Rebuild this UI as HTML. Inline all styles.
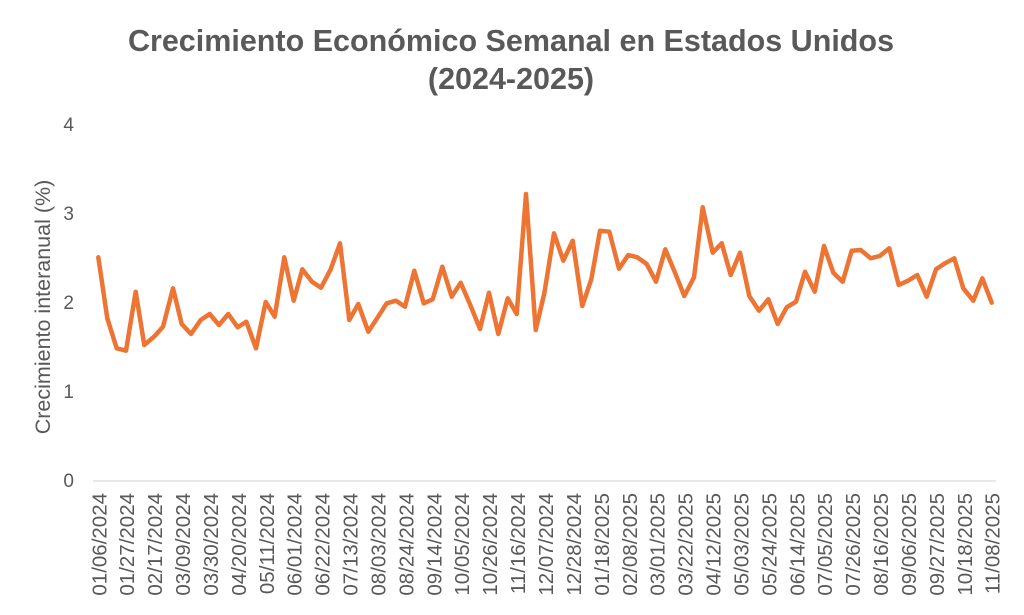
<!DOCTYPE html>
<html><head><meta charset="utf-8"><style>
body{margin:0;background:#fff;}
svg{display:block;font-family:"Liberation Sans",sans-serif;}
</style></head><body>
<svg width="1024" height="615" viewBox="0 0 1024 615">
<text x="511" y="51" text-anchor="middle" font-size="30.5" font-weight="bold" fill="#595959">Crecimiento Económico Semanal en Estados Unidos</text>
<text x="511" y="89" text-anchor="middle" font-size="30.5" font-weight="bold" fill="#595959">(2024-2025)</text>
<g font-size="19" fill="#595959" text-anchor="end">
<text x="74" y="487">0</text><text x="74" y="398">1</text><text x="74" y="309">2</text><text x="74" y="220">3</text><text x="74" y="131">4</text>
</g>
<line x1="93" y1="481" x2="996" y2="481" stroke="#d9d9d9" stroke-width="1.2"/>
<text transform="translate(50,307) rotate(-90)" text-anchor="middle" font-size="21.5" fill="#595959">Crecimiento interanual (%)</text>
<g id="xl" font-size="20.5" fill="#595959" text-anchor="end"></g>
<polyline fill="none" stroke="#ED7433" stroke-width="4.5" stroke-linejoin="round" stroke-linecap="round" points="98.3,257.3 107.3,318.3 116.7,348.3 126,350.7 135.7,291.7 144.3,345 154,336.7 163,326.7 173,288.3 181.7,324 191,334 200.7,320 209.7,314 219,325 228.3,314 237.7,327.3 246.3,321.7 256,348.3 265.7,302 274.7,316.7 284.3,257.3 293.7,300.7 302.3,269.3 312,281.7 321,287.7 330.7,269.3 340,243.3 349.3,320 358.3,304 368.3,331.7 377.7,317.3 386.7,303.3 396,300.7 405,306.7 414.3,270.7 423.7,303.3 432.7,299.3 442.3,266.7 451.7,296.7 460.7,282.7 470.7,306 480,329 489,292.7 498.3,334 507.7,298.3 516.7,314 526,194 535.7,330 544.3,293.3 554,233.3 563.3,260.7 572.7,240.7 582.3,306 591.3,279.3 600,230.7 609.3,231.7 619,268.7 628.3,255 637.3,257.3 646.7,264 656,281.7 665.3,249.3 675,272.7 684.3,296 694,277.3 702.7,207.3 712.7,252.7 721.7,243.3 730.7,275 740,252.7 749.3,296 759,310.7 768.3,299.3 777.7,324 786.7,307.3 796,301.7 805,271.7 814.7,291.7 824,246 833.3,272.7 842.7,281.7 851.7,250.7 860.7,250 870.7,258.3 879.7,256 889.3,248.3 898.7,285 908,280.7 917.3,275 926.7,296.7 936,269.3 945,263.3 954.3,258.3 963.3,288.3 973.3,300.7 982.3,278.3 991.7,302.7"/>
</svg>
<script>
var labels=["01/06/2024","01/27/2024","02/17/2024","03/09/2024","03/30/2024","04/20/2024","05/11/2024","06/01/2024","06/22/2024","07/13/2024","08/03/2024","08/24/2024","09/14/2024","10/05/2024","10/26/2024","11/16/2024","12/07/2024","12/28/2024","01/18/2025","02/08/2025","03/01/2025","03/22/2025","04/12/2025","05/03/2025","05/24/2025","06/14/2025","07/05/2025","07/26/2025","08/16/2025","09/06/2025","09/27/2025","10/18/2025","11/08/2025"];
var g=document.getElementById("xl"),ns="http://www.w3.org/2000/svg";
labels.forEach(function(l,i){var x=98.3+i*(991.7-98.3)/32;var t=document.createElementNS(ns,"text");
t.setAttribute("transform","translate("+(x+8)+",493) rotate(-90)");t.textContent=l;g.appendChild(t);});
</script>
</body></html>
